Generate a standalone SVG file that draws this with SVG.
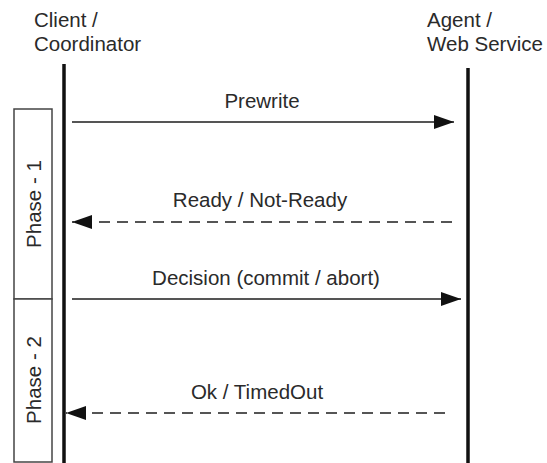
<svg xmlns="http://www.w3.org/2000/svg" width="547" height="463" viewBox="0 0 547 463">
  <style>
    text { font-family: "Liberation Sans", Arial, sans-serif; font-size: 20.5px; fill: #2a2a2a; }
    .lifeline { stroke: #111; stroke-width: 3.5; fill: none; }
    .msg { stroke: #555; stroke-width: 2; fill: none; }
    .dashed { stroke-dasharray: 11 7; }
    .phase { fill: #fff; stroke: #444; stroke-width: 1.5; }
  </style>
  <defs>
    <marker id="arrow" viewBox="0 0 20 14" refX="20" refY="7" markerWidth="20" markerHeight="14" markerUnits="userSpaceOnUse" orient="auto">
      <path d="M0,0 L20,7 L0,14 Z" fill="#111"/>
    </marker>
  </defs>
  <rect width="547" height="463" fill="#fff"/>

  <g id="client">
    <text x="34" y="27">Client /</text>
    <text x="34" y="51">Coordinator</text>
    <line class="lifeline" x1="64" y1="64" x2="64" y2="463"/>
  </g>

  <g id="agent">
    <text x="427" y="27">Agent /</text>
    <text x="427" y="51">Web Service</text>
    <line class="lifeline" x1="468" y1="68" x2="468" y2="463"/>
  </g>

  <g id="phase-1">
    <rect class="phase" x="14" y="109" width="38" height="190"/>
    <text transform="translate(41,204) rotate(-90)" text-anchor="middle">Phase - 1</text>
  </g>

  <g id="phase-2">
    <rect class="phase" x="14" y="299" width="38" height="163"/>
    <text transform="translate(41,380) rotate(-90)" text-anchor="middle">Phase - 2</text>
  </g>

  <g id="connectors">
    <line class="msg" x1="72" y1="122" x2="454" y2="122" marker-end="url(#arrow)"/>
    <text x="262" y="108" text-anchor="middle">Prewrite</text>

    <line class="msg dashed" x1="452" y1="222" x2="72" y2="222" marker-end="url(#arrow)"/>
    <text x="260" y="207" text-anchor="middle">Ready / Not-Ready</text>

    <line class="msg" x1="72" y1="299" x2="461" y2="299" marker-end="url(#arrow)"/>
    <text x="266" y="285" text-anchor="middle">Decision (commit / abort)</text>

    <line class="msg dashed" x1="445" y1="413" x2="66" y2="413" marker-end="url(#arrow)"/>
    <text x="257" y="399" text-anchor="middle">Ok / TimedOut</text>
  </g>
</svg>
